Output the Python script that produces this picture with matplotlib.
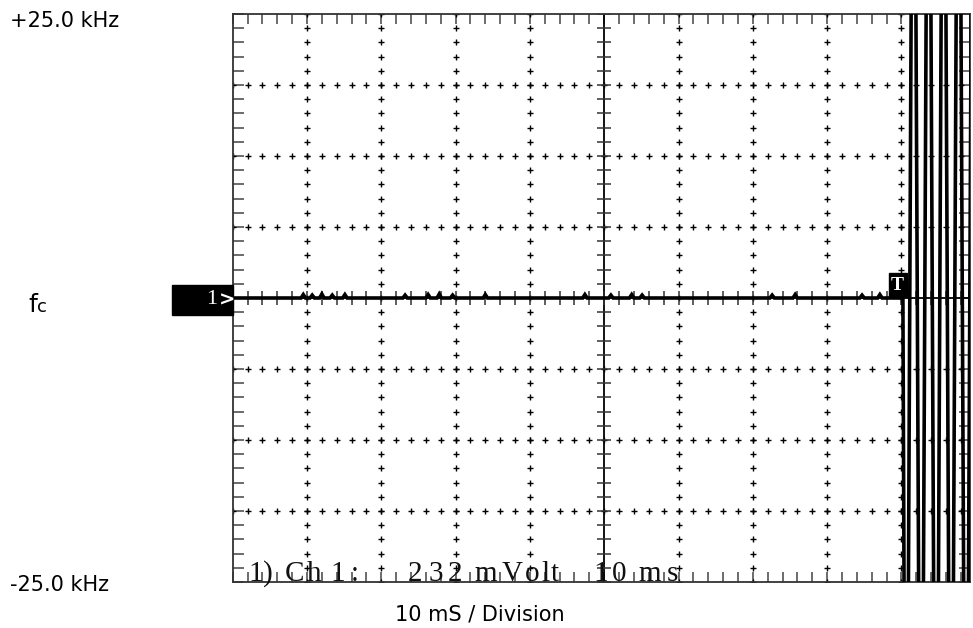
import matplotlib
matplotlib.use("Agg")
import matplotlib.pyplot as plt
import numpy as np
from matplotlib.patches import Rectangle
from matplotlib.ticker import MultipleLocator

# time axis in ms (10 ms / division), frequency axis in kHz (+/-25 kHz)
T_MAX = 99.23
F_LIM = 25.0

# small noise blips on the flat part of the trace
blip_t = [9.5, 10.7, 12.0, 13.4, 15.1, 23.2, 26.3, 27.8, 29.6, 34.0,
          47.4, 50.9, 53.7, 55.1, 72.6, 75.7, 84.7, 87.1]
blip_v = [0.3, 0.25, 0.35, 0.25, 0.3, 0.25, 0.3, 0.35, 0.25, 0.3,
          0.3, 0.25, 0.3, 0.25, 0.25, 0.3, 0.25, 0.3]

# trigger point, then full-scale swings (peaks off screen)
trigger_t = 90.2
sweep_t = [90.62, 91.63, 92.64, 93.65, 94.66, 95.67, 96.68, 97.69, 98.70, 99.71]
sweep_v = [-70, 70, -70, 70, -70, 70, -70, 70, -70, 70]

# on-screen readout, one glyph per screen cell
readout_chars = list("1)Ch1:232mVolt10ms")
readout_x = [256, 268, 295, 314, 338, 355, 415, 436, 455, 486, 512, 532, 545, 555,
             601, 619, 650, 672]

W, H = 973, 628


def fx(x):
    return x / W


def fy(y):
    return 1 - y / H


t = [0.0]
v = [0.0]
for bt, bv in zip(blip_t, blip_v):
    t += [bt - 0.3, bt, bt + 0.3]
    v += [0.0, bv, 0.0]
t += [trigger_t] + sweep_t
v += [0.0] + sweep_v

fig = plt.figure(figsize=(W / 100, H / 100), dpi=100)
ax = fig.add_axes([fx(232.7), fy(582), fx(970) - fx(232.7), fy(14) - fy(582)])
ax.set_xlim(0, T_MAX)
ax.set_ylim(-F_LIM, F_LIM)

for s in ax.spines.values():
    s.set_linewidth(1.3)
    s.set_color("#333333")
ax.xaxis.set_major_locator(MultipleLocator(10))
ax.xaxis.set_minor_locator(MultipleLocator(2))
ax.yaxis.set_major_locator(MultipleLocator(6.25))
ax.yaxis.set_minor_locator(MultipleLocator(1.25))
ax.tick_params(axis="x", which="both", direction="in", top=True,
               labelbottom=False, length=7, width=1.1, color="#444444")
ax.tick_params(axis="y", which="both", direction="in", right=True,
               labelleft=False, length=8, width=1.1, color="#444444")

# dotted graticule: '+' marks along the major lines
xs_minor = np.arange(0, T_MAX, 2)
ys_minor = np.arange(-F_LIM, F_LIM + 0.01, 1.25)
for gx in range(10, 100, 10):
    if gx == 50:
        continue
    ax.plot(np.full_like(ys_minor, gx), ys_minor, ls="none", marker="+",
            ms=4.5, mew=1.0, color="black", zorder=2)
for gy in (-18.75, -12.5, -6.25, 6.25, 12.5, 18.75):
    ax.plot(xs_minor, np.full_like(xs_minor, gy), ls="none", marker="+",
            ms=4.5, mew=1.0, color="black", zorder=2)

# centre axes with ticks
ax.axhline(0, color="black", lw=1.3, zorder=2)
ax.axvline(50, color="black", lw=1.3, zorder=2)
ax.plot(xs_minor, np.zeros_like(xs_minor), ls="none", marker="|", ms=9.5,
        mew=1.1, color="#333333", zorder=2)
ax.plot(np.full_like(ys_minor, 50), ys_minor, ls="none", marker="_", ms=10,
        mew=1.1, color="#333333", zorder=2)

# the trace
ax.plot(t, v, color="black", lw=2.6, zorder=3, solid_joinstyle="miter")

# channel marker "1 >"
fig.add_artist(Rectangle((fx(172), fy(315)), fx(232.7) - fx(172), fy(285) - fy(315),
                         transform=fig.transFigure, color="black", zorder=5))
fig.text(fx(212), fy(300), "1", color="white", family="Liberation Serif",
         fontsize=16, ha="center", va="center", zorder=6)
fig.text(fx(227), fy(300), ">", color="white", family="DejaVu Sans", fontweight="bold",
         fontsize=14, ha="center", va="center", zorder=6)

# trigger marker "T"
fig.add_artist(Rectangle((fx(889), fy(297)), fx(907) - fx(889), fy(273) - fy(297),
                         transform=fig.transFigure, color="black", zorder=5))
fig.text(fx(897.5), fy(285), "T", color="white", family="Liberation Serif", fontweight="bold",
         fontsize=14, ha="center", va="center", zorder=6)

for ch, x in zip(readout_chars, readout_x):
    fig.text(fx(x), fy(581), ch, family="Liberation Serif", fontsize=21,
             ha="center", va="baseline", color="#111111", zorder=6)

# outside labels
fig.text(fx(10), fy(27), "+25.0 kHz", family="DejaVu Sans", fontsize=15, va="baseline")
fig.text(fx(10), fy(591), "-25.0 kHz", family="DejaVu Sans", fontsize=15, va="baseline")
fig.text(fx(395), fy(620), "10 mS / Division", family="DejaVu Sans", fontsize=15, va="baseline")
fig.text(fx(28), fy(312), "f", family="DejaVu Sans", fontsize=18, va="baseline")
fig.text(fx(37), fy(312), "c", family="DejaVu Sans", fontsize=13, va="baseline")

fig.savefig("out.png", dpi=100)
